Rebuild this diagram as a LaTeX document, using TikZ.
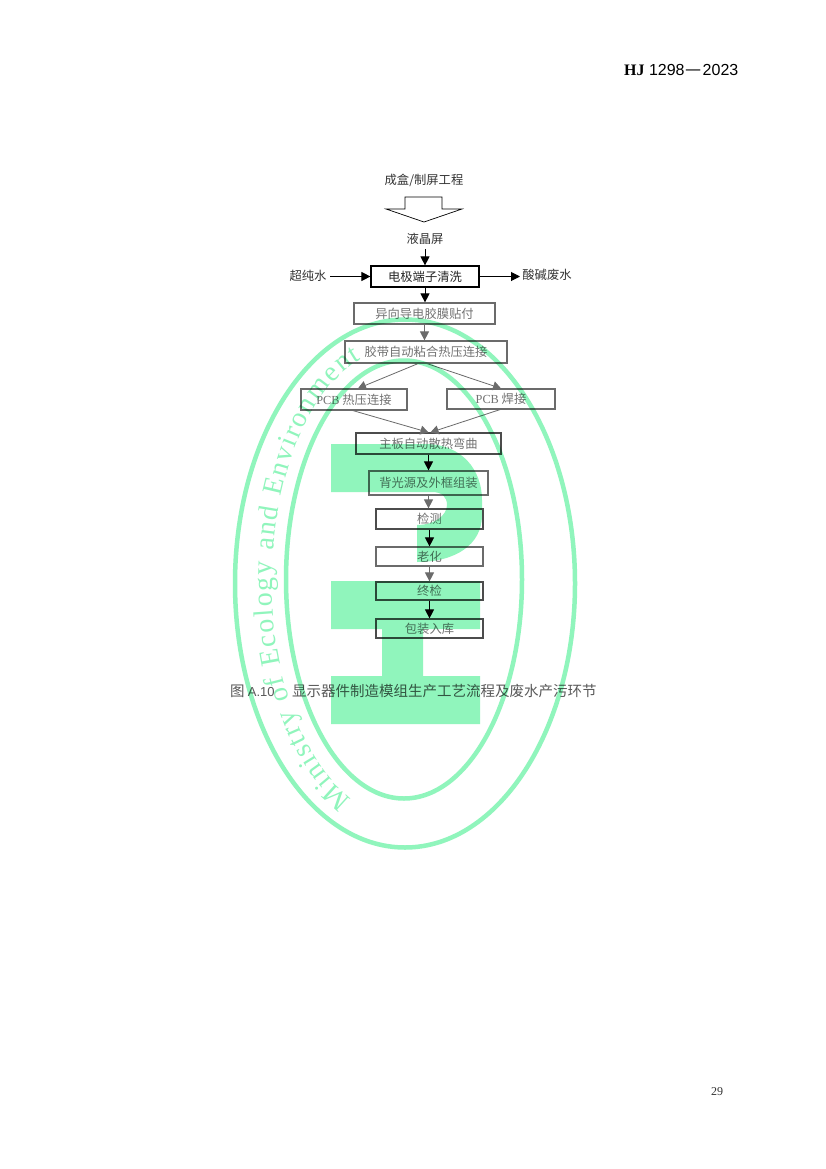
\documentclass[tikz,border=0pt]{standalone}
\usepackage{fontspec}
\setmainfont{Liberation Serif}
\newfontfamily\cjk{Noto Sans CJK SC}
\newfontfamily\lsans{Liberation Sans}
\usetikzlibrary{arrows.meta,decorations.text}
\definecolor{wm}{HTML}{90F5BC}
\definecolor{dk}{gray}{0.42}
\definecolor{tx}{gray}{0.45}
\tikzset{
  flowbox/.style={draw=#1,line width=1.2pt,inner sep=0pt,font=\cjk\fontsize{12.3}{12.3}\selectfont,text=tx},
  flowbox/.default=dk,
  lbl/.style={inner sep=0pt,font=\cjk\fontsize{12.3}{12.3}\selectfont,text=black!80},
  arr/.style={draw=#1,line width=1pt,-{Triangle[length=9pt,width=9pt]}},
  arr/.default=black,
  thinarr/.style={draw=dk,line width=.8pt,-{Triangle[length=8pt,width=9pt]}},
}
\newcommand{\fbx}[7][dk]{\node[flowbox=#1,minimum width=#5pt-#4pt,minimum height=#7pt-#6pt] (#2) at ({(#4+#5)/2},{(#6+#7)/2}) {#3};}
\begin{document}
\begin{tikzpicture}[x=1pt,y=-1pt]
\useasboundingbox (0,0) rectangle (826,1169);
\fill[white] (0,0) rectangle (826,1169);
% header and page number
\node[inner sep=0pt,anchor=east,font=\lsans\fontsize{16}{16}\selectfont] (hdr) at (738.5,70) {{\rmfamily\bfseries HJ} 1298\kern1pt{\cjk\fontsize{18}{18}\selectfont —}\kern1pt2023};
\node[inner sep=0pt,font=\fontsize{12}{12}\selectfont,text=black!80] (pg) at (717,1092) {29};
% labels
\node[lbl] (src) at (424,180) {成盒/制屏工程};
\draw[line width=.7pt,line join=miter] (405,209) -- (405,197) -- (442,197) -- (442,209) -- (462,209) -- (424,222) -- (386,209) -- cycle;
\node[lbl] (lcd) at (425,239) {液晶屏};
\node[lbl] (pure) at (308,276) {超纯水};
\node[lbl] (waste) at (547,275) {酸碱废水};
% boxes
\fbx[black]{clean}{\textcolor{black!85}{电极端子清洗}}{371}{479}{266}{287}
\fbx{acf}{异向导电胶膜贴付}{354}{495}{303}{324}
\fbx{tab}{胶带自动粘合热压连接}{345}{507}{341}{363}
\fbx{pcba}{{\rmfamily PCB} 热压连接}{301}{407}{389}{410}
\fbx{pcbb}{{\rmfamily PCB} 焊接}{447}{555}{389}{409}
\fbx[black!70]{bend}{主板自动散热弯曲}{356}{501}{433}{454}
\fbx{back}{背光源及外框组装}{369}{488}{471}{495}
\fbx[black!70]{insp}{检测}{376}{483}{509}{529}
\fbx{age}{老化}{376}{483}{547}{566}
\fbx[black!70]{fin}{终检}{376}{483}{582}{600}
\fbx[black!70]{pack}{包装入库}{376}{483}{619}{638}
% connectors
\draw[arr] (lcd.south |- 0,249) -- (clean.north -| lcd.south);
\draw[arr] (clean.west -| 330,0) -- (clean.west);
\draw[arr] (clean.east) -- (clean.east -| 520,0);
\draw[arr] (clean.south) -- (acf.north -| clean.south);
\draw[arr=dk] (acf.south) -- (tab.north -| acf.south);
\draw[thinarr] ([xshift=-8pt]tab.south) -- ([xshift=4pt]pcba.north);
\draw[thinarr] ([xshift=1pt]tab.south) -- (pcbb.north);
\draw[thinarr] ([xshift=-1pt,yshift=0pt]pcba.south) -- (bend.north);
\draw[thinarr] ([xshift=-1pt]pcbb.south) -- ([xshift=2pt]bend.north);
\draw[arr] (bend.south) -- (back.north);
\draw[arr=dk] (back.south) -- (insp.north -| back.south);
\draw[arr] (insp.south) -- (age.north);
\draw[arr=dk] (age.south) -- (fin.north);
\draw[arr] (fin.south) -- (pack.north);
% caption
\node[inner sep=0pt,anchor=west,text=black!65,font=\cjk\fontsize{14.5}{14.5}\selectfont] (cap) at (230,691) {图 {\lsans\fontsize{13}{13}\selectfont A.10}};
\node[inner sep=0pt,anchor=west,text=black!65,font=\cjk\fontsize{14.5}{14.5}\selectfont] (cap2) at (292,691) {显示器件制造模组生产工艺流程及废水产污环节};
% watermark
\begin{scope}
\pgfsetblendmode{multiply}
\draw[wm,line width=4.5pt] (405,583.5) ellipse [x radius=170pt,y radius=264pt];
\draw[wm,line width=4.5pt] (404,579.5) ellipse [x radius=118pt,y radius=219pt];
\fill[wm] (331,444) -- (425,444) .. controls (462,444) and (482,470) .. (482,500) -- (482,515) .. controls (482,545) and (455,562) .. (417,562) -- (417,525) .. controls (435,525) and (447,515) .. (447,505) .. controls (447,497) and (442,492) .. (432,492) -- (331,492) -- cycle;
\fill[wm] (331,581) -- (480,581) -- (480,629) -- (423,629) -- (423,676) -- (480,676) -- (480,724) -- (331,724) -- (331,676) -- (382,676) -- (382,629) -- (331,629) -- cycle;
\path[decorate,decoration={text along path,text align={fit to path},
   text={|\color{wm}\fontsize{28}{28}\selectfont|Ministry of Ecology and Environment}}]
   ({398+126*cos(248.6)},{582-233*sin(248.6)}) arc [start angle=248.6,end angle=107,x radius=126pt,y radius=233pt];
\end{scope}
\end{tikzpicture}
\end{document}
